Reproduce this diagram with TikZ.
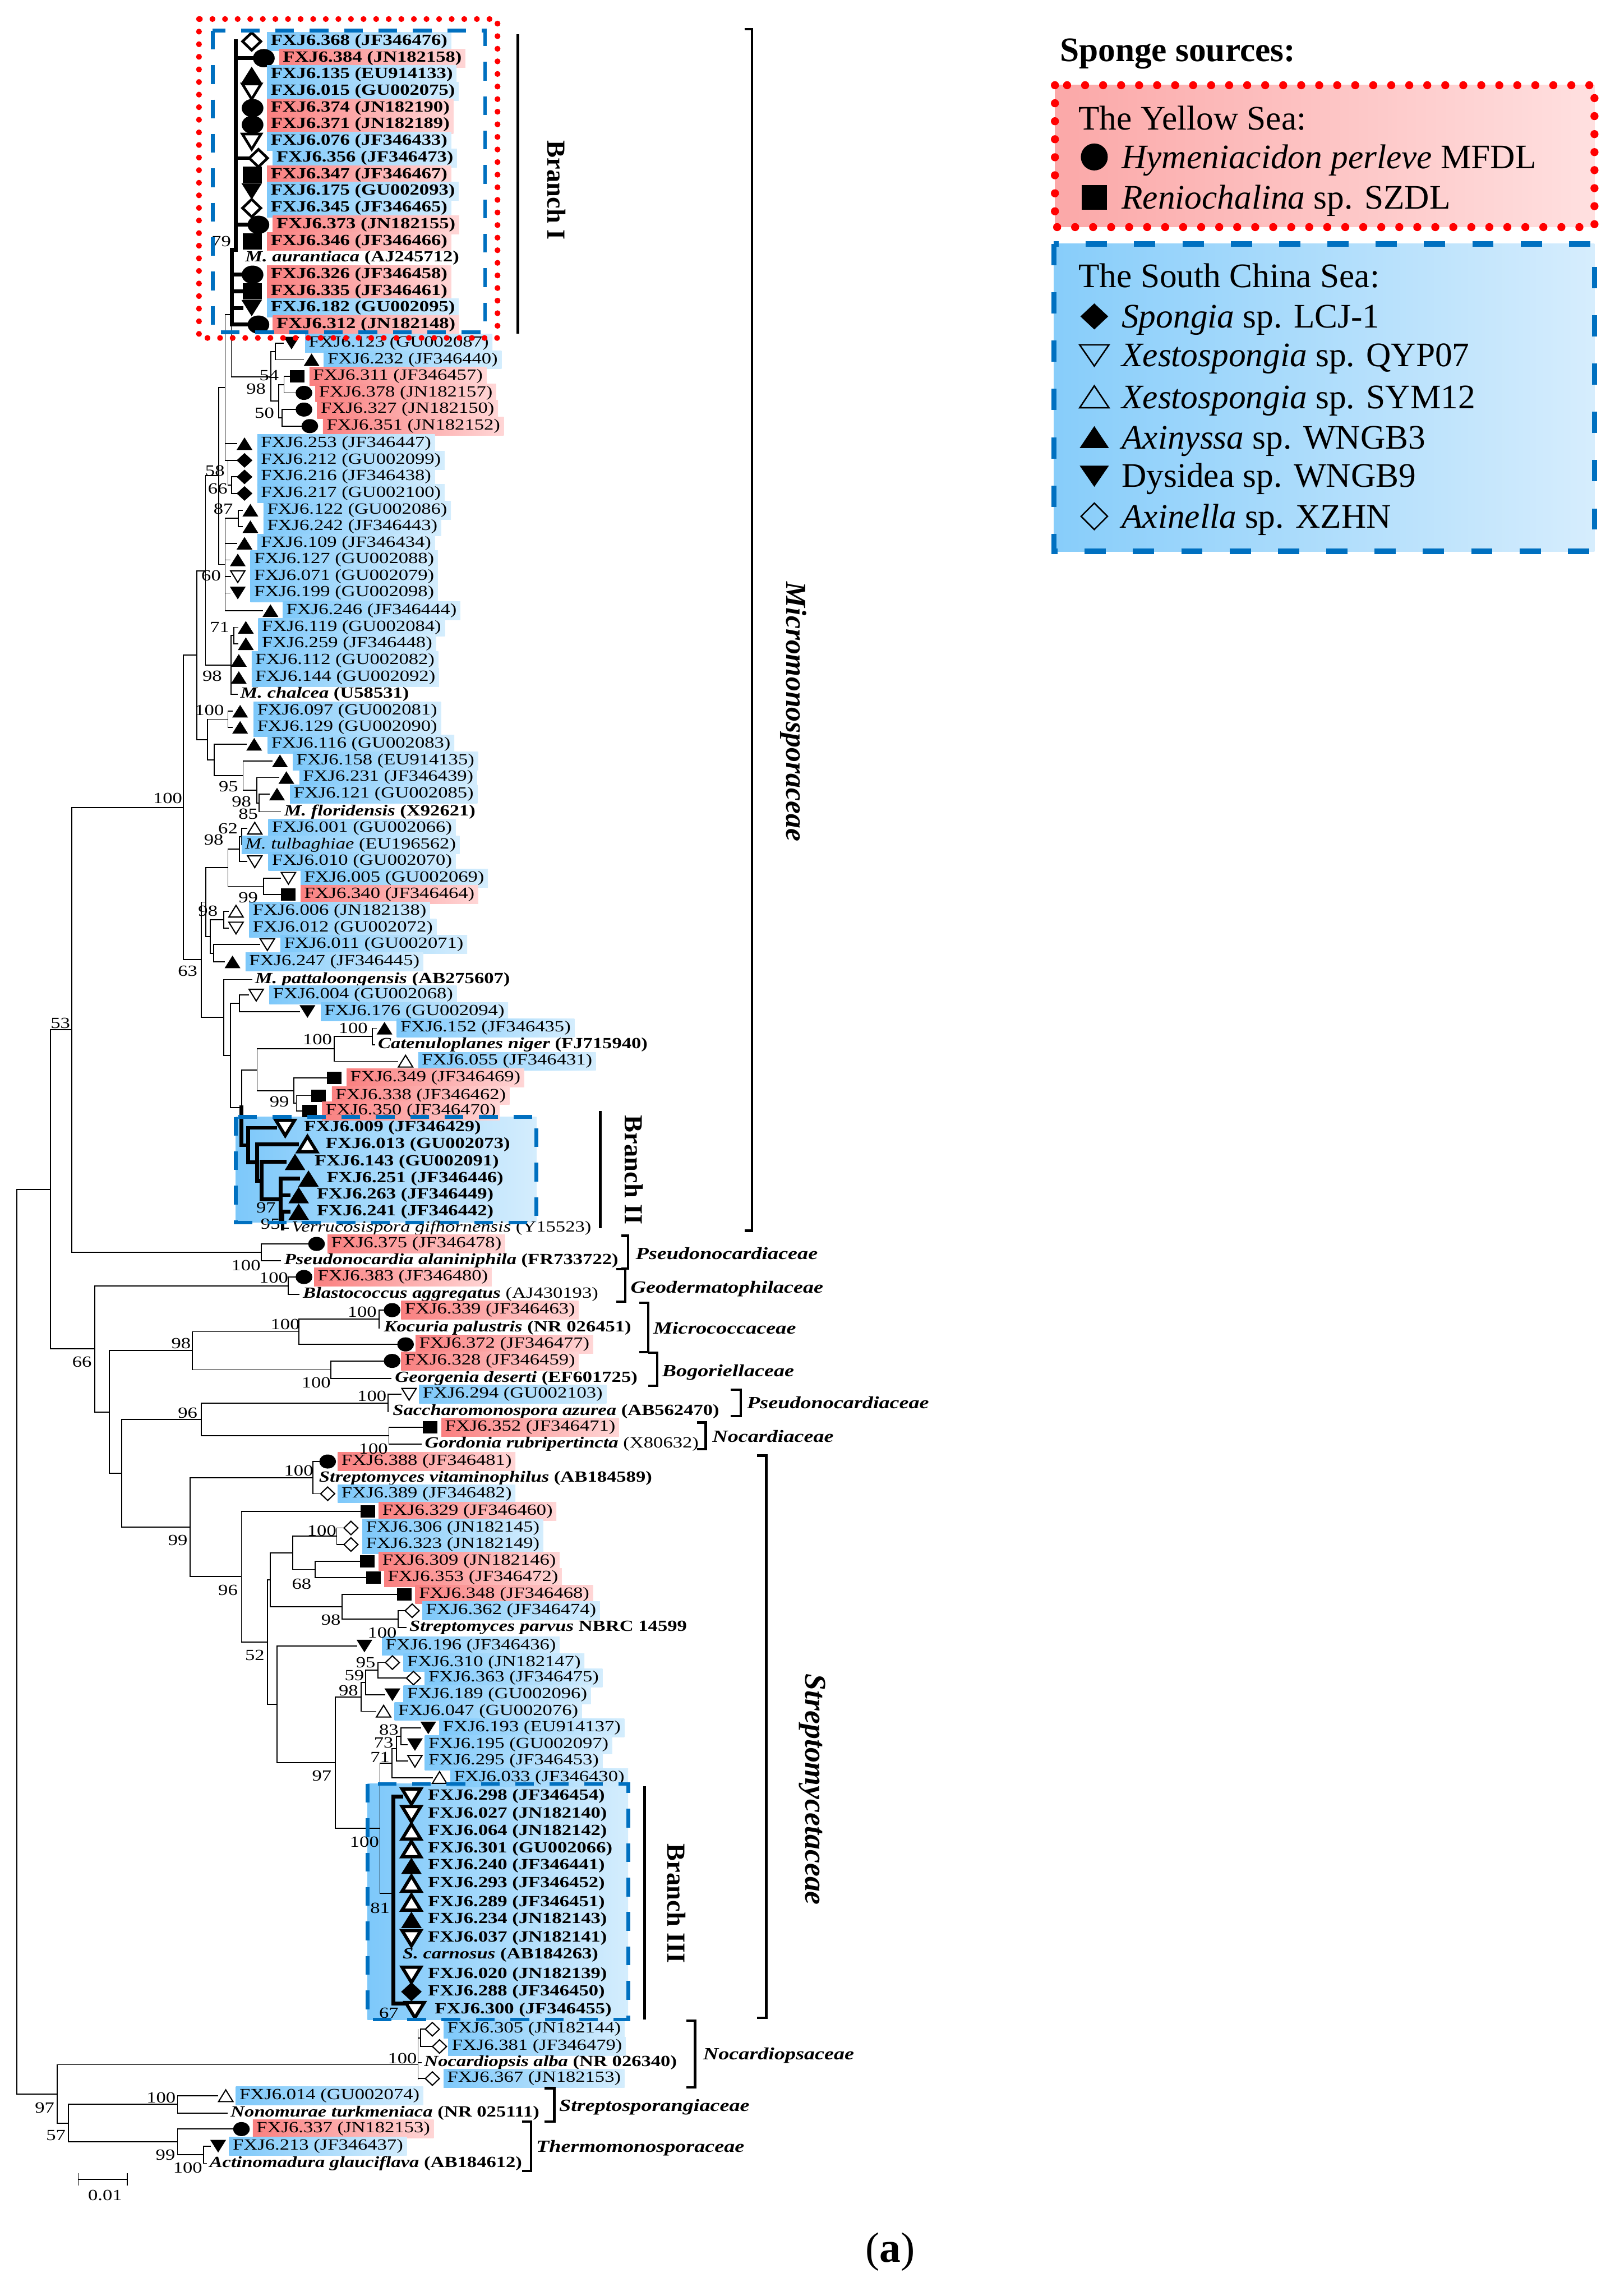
\documentclass[tikz,border=0pt]{standalone}
\usepackage{fontspec}
\setmainfont{Liberation Serif}
\newfontfamily\stretchf{Liberation Serif}[FakeStretch=1.25]
\newcommand\leaffont{\stretchf\fontsize{10.6}{12}\selectfont}
\newcommand\famfont{\stretchf\fontsize{11.7}{13}\selectfont\bfseries\itshape}
\newcommand\legfont{\fontsize{23.5}{26}\selectfont}
\definecolor{bL}{RGB}{125,200,250}
\definecolor{bR}{RGB}{212,237,253}
\definecolor{rL}{RGB}{250,128,128}
\definecolor{rR}{RGB}{255,214,214}
\definecolor{lrL}{RGB}{251,168,168}
\definecolor{lrR}{RGB}{255,224,224}
\definecolor{lbL}{RGB}{135,205,250}
\definecolor{lbR}{RGB}{214,237,253}
\definecolor{dblue}{RGB}{0,112,192}
\definecolor{dred}{RGB}{255,0,0}
\newcounter{lc}
\newcounter{bc}
\newcommand\olw{0.8pt}
\newcommand\VL[3]{\draw[tl] (#1,#2) -- (#1,#3);}
\newcommand\HL[3]{\draw[tl] (#2,#1) -- (#3,#1);}
\newcommand\VT[3]{\draw[tk] (#1,#2) -- (#1,#3);}
\newcommand\HT[3]{\draw[tk] (#2,#1) -- (#3,#1);}
\newcommand\Sci[3]{\fill (#1,#2) ellipse [x radius={5.7pt*#3}, y radius={4.8pt*#3}];}
\newcommand\Ssq[3]{\fill (#1-5*#3,#2-4.2*#3) rectangle (#1+5*#3,#2+4.2*#3);}
\newcommand\Stu[3]{\fill (#1-5.4*#3,#2+4.3*#3) -- (#1+5.4*#3,#2+4.3*#3) -- (#1,#2-4.3*#3) -- cycle;}
\newcommand\Std[3]{\fill (#1-5.4*#3,#2-4.3*#3) -- (#1+5.4*#3,#2-4.3*#3) -- (#1,#2+4.3*#3) -- cycle;}
\newcommand\Sou[3]{\filldraw[fill=white,line width=\olw,line join=miter] (#1-4.9*#3,#2+3.9*#3) -- (#1+4.9*#3,#2+3.9*#3) -- (#1,#2-4.1*#3) -- cycle;}
\newcommand\Sod[3]{\filldraw[fill=white,line width=\olw,line join=miter] (#1-4.9*#3,#2-3.9*#3) -- (#1+4.9*#3,#2-3.9*#3) -- (#1,#2+4.1*#3) -- cycle;}
\newcommand\Sdi[3]{\fill (#1-5.4*#3,#2) -- (#1,#2-5*#3) -- (#1+5.4*#3,#2) -- (#1,#2+5*#3) -- cycle;}
\newcommand\Soi[3]{\filldraw[fill=white,line width=\olw] (#1-4.8*#3,#2) -- (#1,#2-4.6*#3) -- (#1+4.8*#3,#2) -- (#1,#2+4.6*#3) -- cycle;}
\newcommand\Sno[3]{}
\newcommand\Lf[7]{#2{#3}{#1}{#4}\stepcounter{lc}\node[#5] (leaf\arabic{lc}) at (#6-2.5,#1) {#7};}
\newcommand\btsp[3]{\stepcounter{bc}\node[bsn] (bs\arabic{bc}) at (#1,#2) {#3};}
\newcommand\fambr[4]{\draw[brk] (#1,#3) -- (#2,#3) -- (#2,#4) -- (#1,#4);}
\begin{document}
\begin{tikzpicture}[x=1pt,y=-1pt,
 tl/.style={line width=0.7pt, line cap=rect},
 tk/.style={line width=2.6pt, line cap=rect},
 lab/.style={anchor=west, inner xsep=2.5pt, inner ysep=0pt, minimum height=12.6pt, text height=7.4pt, text depth=2.4pt, font=\leaffont},
 lb/.style={lab, left color=bL, right color=bR},
 lr/.style={lab, left color=rL, right color=rR},
 lp/.style={lab},
 lbb/.style={lb, font=\leaffont\bfseries},
 lrb/.style={lr, font=\leaffont\bfseries},
 lpb/.style={lp, font=\leaffont\bfseries},
 bsn/.style={font=\leaffont, inner sep=0pt},
 famlab/.style={font=\famfont, anchor=base west, inner sep=0pt},
 brk/.style={line width=1.7pt},
 bar/.style={line width=1.8pt},
 rot/.style={rotate=-90, inner sep=0pt},
 lg/.style={font=\legfont, anchor=base west, inner sep=0pt},
 bdash/.style={draw=dblue, line width=2.6pt, dash pattern=on 12.8pt off 10.7pt},
 rdot/.style={draw=dred, line width=4pt, dash pattern=on 0pt off 8.6pt, line cap=round},
]
\fill[white] (0,0) rectangle (1103,1568);
\useasboundingbox (0,0) rectangle (1103,1568);

% ---------- branch box fills ----------
\path[left color=bL, right color=bR] (161,762.8) rectangle (366.4,834.9);
\path[left color=bL, right color=bR] (251,1218.3) rectangle (429,1379.2);

% ---------- tree ----------
\VL{11.6}{812.3}{1430}\HL{812.3}{11.6}{34.5}\HL{1430}{11.6}{39.1}
\VL{34.5}{703.3}{921.2}\HL{703.3}{34.5}{48.9}\HL{921.2}{34.5}{64.7}
\VL{48.9}{551.4}{855.2}\HL{551.4}{48.9}{125.2}\HL{855.2}{48.9}{178.6}
\VL{178.6}{849.5}{861}\HL{849.5}{178.6}{210.5}\HL{861}{178.6}{191.6}
\VL{125.2}{447.4}{655.4}\HL{447.4}{125.2}{134.4}\HL{655.4}{125.2}{137.4}
\VL{134.4}{389.8}{505.1}\HL{389.8}{134.4}{140.4}\HL{505.1}{134.4}{141.7}
\VL{140.4}{324.9}{454.2}\HL{324.9}{140.4}{149.3}\HL{454.2}{140.4}{157.7}
\VL{149.3}{264.7}{385.5}\HL{264.7}{149.3}{153.8}\HL{385.5}{149.3}{153.8}
\VL{153.8}{215}{314.4}\HL{215}{153.8}{158}\HL{303}{153.8}{161.5}\HL{314.4}{153.8}{161.5}
\VL{155.7}{314.4}{331.4}\HL{331.4}{155.7}{158.3}
\VL{158.3}{325.7}{337}\HL{325.7}{158.3}{161.5}\HL{337}{158.3}{161.5}
\VL{158}{170.7}{257.3}\HL{257.3}{158}{185.1}
\VL{185.1}{240}{274}\HL{240}{185.1}{188}\VL{188}{234.3}{245.7}\HL{234.3}{188}{193.6}\HL{245.7}{188}{207.3}
\HL{274}{185.1}{190.2}\VL{190.2}{262.65}{285.35}\HL{262.65}{190.2}{194}\VL{194}{257}{268.3}\HL{257}{194}{198}\HL{268.3}{194}{201.9}
\HL{285.35}{190.2}{192.5}\VL{192.5}{279.7}{291}\HL{279.7}{192.5}{201.9}\HL{291}{192.5}{205.9}
\VL{153.8}{354}{417}\HL{354}{153.8}{162.8}\VL{162.8}{348.4}{359.7}\HL{348.4}{162.8}{165.6}\HL{359.7}{162.8}{165.6}
\HL{371}{153.8}{161.6}\HL{382.4}{153.8}{157}\HL{393.7}{153.8}{157.4}\HL{405}{153.8}{157}\HL{417}{153.8}{179.3}
\VL{157.7}{434}{474.3}\HL{434}{157.7}{159.6}\VL{159.6}{428.4}{439.6}\HL{428.4}{159.6}{162.5}\HL{439.6}{159.6}{162.5}\HL{474.3}{157.7}{162}
\VL{141.7}{491.2}{519}\HL{491.2}{141.7}{155.7}\VL{155.7}{485.7}{496.7}\HL{485.7}{155.7}{158.6}\HL{496.7}{155.7}{158.6}
\HL{519}{141.7}{146.2}\VL{146.2}{508.3}{529.6}\HL{508.3}{146.2}{168.2}\HL{529.6}{146.2}{166}
\VL{166}{519.6}{539.7}\HL{519.6}{166}{185.8}\HL{539.7}{166}{175.5}
\VL{175.5}{531}{548.35}\HL{531}{175.5}{190.2}\HL{548.35}{175.5}{177}
\VL{177}{542.3}{554.4}\HL{542.3}{177}{183.8}\HL{554.4}{177}{191.5}
\VL{137.4}{616.05}{694.8}\HL{616.05}{137.4}{140.5}\HL{694.8}{137.4}{152.7}
\VL{140.5}{592.6}{639.5}\HL{592.6}{140.5}{155.7}\HL{639.5}{140.5}{143.5}
\VL{155.7}{579.9}{605.35}\HL{579.9}{155.7}{163.4}\HL{605.35}{155.7}{180}
\VL{163.4}{571.35}{588.4}\HL{571.35}{163.4}{165.2}\HL{588.4}{163.4}{168.6}
\VL{165.2}{565.7}{577}\HL{565.7}{165.2}{168.6}
\VL{180}{599.7}{611}\HL{599.7}{180}{191.6}\HL{611}{180}{192}
\VL{143.5}{628.05}{650.95}\HL{628.05}{143.5}{152.7}\HL{650.95}{143.5}{146}
\VL{152.7}{622.4}{633.7}\HL{622.4}{152.7}{155.8}\HL{633.7}{152.7}{155.8}
\VL{146}{645}{656.9}\HL{645}{146}{177.2}\HL{656.9}{146}{153.4}
\VL{152.7}{668.9}{720.7}\HL{668.9}{152.7}{172}\HL{720.7}{152.7}{157.3}
\VL{157.3}{685.15}{756.3}\HL{685.15}{157.3}{163.4}\HL{756.3}{157.3}{165}
\VL{163.4}{679.5}{690.8}\HL{679.5}{163.4}{169.6}\HL{690.8}{163.4}{204.6}
\VL{165}{730.6}{756.3}\HL{730.6}{165}{175.6}
\VT{165}{756.3}{782.05}\HT{782.05}{165}{169.5}
\VL{175.6}{716.3}{744.85}\HL{716.3}{175.6}{228.4}\HL{744.85}{175.6}{200.6}
\VL{228.4}{707.85}{724.8}\HL{707.85}{228.4}{254.4}\HL{724.8}{228.4}{271.6}
\VL{254.4}{702.2}{713.5}\HL{702.2}{254.4}{257.2}\HL{713.5}{254.4}{256}
\VL{200.6}{736.2}{753.5}\HL{736.2}{200.6}{223.4}\HL{753.5}{200.6}{202.4}
\VL{202.4}{748.2}{758.8}\HL{748.2}{202.4}{212.7}\HL{758.8}{202.4}{206.3}
\VT{169.5}{770.2}{793.9}\HT{770.2}{169.5}{187.8}\HT{793.9}{169.5}{175.6}
\VT{175.6}{781.5}{806.3}\HT{781.5}{175.6}{203}\HT{806.3}{175.6}{178.6}
\VT{178.6}{793.5}{819.05}\HT{793.5}{178.6}{194.5}\HT{819.05}{178.6}{191.8}
\VT{191.8}{804.9}{833.2}\HT{804.9}{191.8}{203.7}\HT{816.2}{191.8}{197}\HT{833.2}{191.8}{193}
\VT{193}{827.5}{838.9}\HT{827.5}{193}{197}\HL{838.9}{193}{197}
\VL{64.7}{878.1}{964.25}\HL{878.1}{64.7}{197}\HL{964.25}{64.7}{74.8}
\VL{197}{872.1}{884.1}\HL{872.1}{197}{201.9}\HL{884.1}{197}{204.2}
\VL{74.8}{922.4}{1006.1}\HL{922.4}{74.8}{131.3}\HL{1006.1}{74.8}{83}
\VL{131.3}{909.4}{935.45}\HL{909.4}{131.3}{204}\HL{935.45}{131.3}{226}
\VL{204}{900.75}{918.1}\HL{900.75}{204}{259}\HL{918.1}{204}{271.3}
\VL{259}{894.7}{906.8}\HL{894.7}{259}{262.1}
\VL{226}{929.4}{941.5}\HL{929.4}{226}{262.1}\HL{941.5}{226}{267.1}
\VL{83}{969.3}{1042.9}\HL{969.3}{83}{137.4}\HL{1042.9}{83}{129.8}
\VL{137.4}{958.1}{980.45}\HL{958.1}{137.4}{265}\HL{980.45}{137.4}{265.6}
\VL{265}{952.1}{964.1}\HL{952.1}{265}{274}
\VL{265.6}{974.8}{986.1}\HL{974.8}{265.6}{288.7}\HL{986.1}{265.6}{287.5}
\VL{129.8}{1009.1}{1076.75}\HL{1009.1}{129.8}{213.7}\HL{1076.75}{129.8}{164.9}
\VL{213.7}{998.1}{1020.1}\HL{998.1}{213.7}{218.1}\HL{1020.1}{213.7}{218.8}
\VL{164.9}{1032.1}{1121.4}\HL{1032.1}{164.9}{246.3}\HL{1121.4}{164.9}{182.6}
\VL{182.6}{1078.85}{1163.9}\HL{1078.85}{182.6}{184.7}\HL{1163.9}{182.6}{189.3}
\VL{184.7}{1060.5}{1097.2}\HL{1060.5}{184.7}{200}\HL{1097.2}{184.7}{233.6}
\VL{200}{1049.15}{1071.8}\HL{1049.15}{200}{230}\HL{1071.8}{200}{215.3}
\VL{230}{1043.5}{1054.8}\HL{1043.5}{230}{234.7}\HL{1054.8}{230}{234.7}
\VL{215.3}{1066.1}{1077.5}\HL{1066.1}{215.3}{246}\HL{1077.5}{215.3}{250}
\VL{233.6}{1088.7}{1105.7}\HL{1088.7}{233.6}{271.3}\HL{1105.7}{233.6}{271.8}
\VL{271.8}{1100}{1111.4}\HL{1100}{271.8}{276.5}\HL{1111.4}{271.8}{277.2}
\VL{189.3}{1124.1}{1203.7}\HL{1124.1}{189.3}{243.5}\HL{1203.7}{189.3}{229}
\VL{229}{1158.9}{1248.55}\HL{1158.9}{229}{246.7}\HL{1248.55}{229}{259.5}
\VL{246.7}{1149.05}{1168.7}\HL{1149.05}{246.7}{249.8}\HL{1168.7}{246.7}{256.6}
\VL{249.8}{1140.7}{1157.4}\HL{1140.7}{249.8}{258}\HL{1157.4}{249.8}{262.6}
\VL{258}{1135.4}{1146}\HL{1135.4}{258}{263}\HL{1146}{258}{277.4}
\VL{259.5}{1204.1}{1293}\HL{1204.1}{259.5}{267.8}\HL{1293}{259.5}{268.7}
\VL{267.8}{1194.2}{1214}\HL{1194.2}{267.8}{270.8}\HL{1214}{267.8}{295.2}
\VL{270.8}{1185.7}{1202.7}\HL{1185.7}{270.8}{273.9}\HL{1202.7}{270.8}{278.4}
\VL{273.9}{1180}{1191.4}\HL{1180}{273.9}{287.1}\HL{1191.4}{273.9}{278}
\VT{268.7}{1226.8}{1368.2}\HT{1226.8}{268.7}{274}\HT{1368.2}{268.7}{276}
\VL{39.1}{1410}{1450}\HL{1410}{39.1}{285.5}\HL{1450}{39.1}{46.7}
\VL{285.5}{1386}{1420}\HL{1391.7}{285.5}{287.2}\VL{287.2}{1385.8}{1397.6}\HL{1385.8}{287.2}{290}\HL{1397.6}{287.2}{294.9}\HL{1408.5}{285.5}{287.5}\HL{1419.5}{285.5}{290}
\VL{46.7}{1437.15}{1462.8}\HL{1437.15}{46.7}{121.2}\HL{1462.8}{46.7}{121.2}
\VL{121.2}{1431.3}{1443}\HL{1431.3}{121.2}{148.8}\HL{1443}{121.2}{155.3}
\VL{121.2}{1454}{1471.55}\HL{1454}{121.2}{159.2}\HL{1471.55}{121.2}{139}
\VL{139}{1465.7}{1477.4}\HL{1465.7}{139}{143.6}\HL{1477.4}{139}{141}
% Branch I thick lines
\VT{161}{28.3}{170.7}\HT{170.7}{158.5}{161}\VT{158.5}{170.7}{221.7}
\HT{39.7}{161}{172.8}\HT{108}{161}{170}\HT{153.5}{161}{169.5}\HT{221.7}{158.5}{169.5}
\HT{187.6}{158.5}{165}\HT{199}{158.5}{165}\HT{210.4}{158.5}{165}

% ---------- leaves ----------
\renewcommand\olw{1.8pt}
\Lf{28.3}{\Soi}{171.9}{1.3}{lbb}{184.7}{FXJ6.368 (JF346476)}
\Lf{39.7}{\Sci}{180.2}{1.3}{lrb}{193}{FXJ6.384 (JN182158)}
\Lf{51.1}{\Stu}{171.9}{1.3}{lbb}{184.7}{FXJ6.135 (EU914133)}
\Lf{62.4}{\Sod}{171.9}{1.3}{lbb}{184.7}{FXJ6.015 (GU002075)}
\Lf{73.8}{\Sci}{172.5}{1.3}{lrb}{184.7}{FXJ6.374 (JN182190)}
\Lf{85.2}{\Sci}{172.5}{1.3}{lrb}{184.7}{FXJ6.371 (JN182189)}
\Lf{96.6}{\Sod}{171.9}{1.3}{lbb}{184.7}{FXJ6.076 (JF346433)}
\Lf{108.0}{\Soi}{176.5}{1.3}{lbb}{188.7}{FXJ6.356 (JF346473)}
\Lf{119.3}{\Ssq}{172.5}{1.3}{lrb}{184.7}{FXJ6.347 (JF346467)}
\Lf{130.7}{\Std}{171.9}{1.3}{lbb}{184.7}{FXJ6.175 (GU002093)}
\Lf{142.1}{\Soi}{171.9}{1.3}{lbb}{184.7}{FXJ6.345 (JF346465)}
\Lf{153.5}{\Sci}{176.5}{1.3}{lrb}{188.7}{FXJ6.373 (JN182155)}
\Lf{164.9}{\Ssq}{172.5}{1.3}{lrb}{184.7}{FXJ6.346 (JF346466)}
\Lf{176.2}{\Sno}{0}{1}{lpb}{167.3}{\textit{M. aurantiaca} (AJ245712)}
\Lf{187.6}{\Sci}{172.5}{1.3}{lrb}{184.7}{FXJ6.326 (JF346458)}
\Lf{199.0}{\Ssq}{172.5}{1.3}{lrb}{184.7}{FXJ6.335 (JF346461)}
\Lf{210.4}{\Std}{171.9}{1.3}{lbb}{184.7}{FXJ6.182 (GU002095)}
\Lf{221.7}{\Sci}{176.5}{1.3}{lrb}{188.7}{FXJ6.312 (JN182148)}
\renewcommand\olw{0.8pt}
\Lf{234.3}{\Std}{199.1}{1}{lb}{210.7}{FXJ6.123 (GU002087)}
\Lf{245.7}{\Stu}{212.8}{1}{lb}{223.5}{FXJ6.232 (JF346440)}
\Lf{257.0}{\Ssq}{203}{1}{lr}{213.7}{FXJ6.311 (JF346457)}
\Lf{268.3}{\Sci}{207.6}{1}{lr}{217.7}{FXJ6.378 (JN182157)}
\Lf{279.7}{\Sci}{207.6}{1}{lr}{218.9}{FXJ6.327 (JN182150)}
\Lf{291.0}{\Sci}{211.6}{1}{lr}{222.9}{FXJ6.351 (JN182152)}
\Lf{303.0}{\Stu}{167}{1}{lb}{178}{FXJ6.253 (JF346447)}
\Lf{314.4}{\Sdi}{167}{1}{lb}{178}{FXJ6.212 (GU002099)}
\Lf{325.7}{\Sdi}{167}{1}{lb}{178}{FXJ6.216 (JF346438)}
\Lf{337.0}{\Sdi}{167}{1}{lb}{178}{FXJ6.217 (GU002100)}
\Lf{348.4}{\Stu}{171}{1}{lb}{182.3}{FXJ6.122 (GU002086)}
\Lf{359.7}{\Stu}{171}{1}{lb}{182.3}{FXJ6.242 (JF346443)}
\Lf{371.0}{\Stu}{167}{1}{lb}{178}{FXJ6.109 (JF346434)}
\Lf{382.4}{\Stu}{162.4}{1}{lb}{173.4}{FXJ6.127 (GU002088)}
\Lf{393.7}{\Sod}{162.4}{1}{lb}{173.4}{FXJ6.071 (GU002079)}
\Lf{405.0}{\Std}{162.4}{1}{lb}{173.4}{FXJ6.199 (GU002098)}
\Lf{417.0}{\Stu}{184.7}{1}{lb}{195.4}{FXJ6.246 (JF346444)}
\Lf{428.4}{\Stu}{167.9}{1}{lb}{178.7}{FXJ6.119 (GU002084)}
\Lf{439.6}{\Stu}{167.9}{1}{lb}{178.7}{FXJ6.259 (JF346448)}
\Lf{451.0}{\Stu}{163.1}{1}{lb}{174.2}{FXJ6.112 (GU002082)}
\Lf{462.7}{\Stu}{163.1}{1}{lb}{174.2}{FXJ6.144 (GU002092)}
\Lf{474.3}{\Sno}{0}{1}{lpb}{164}{\textit{M. chalcea} (U58531)}
\Lf{485.7}{\Stu}{164}{1}{lb}{175.5}{FXJ6.097 (GU002081)}
\Lf{496.7}{\Stu}{164}{1}{lb}{175.5}{FXJ6.129 (GU002090)}
\Lf{508.3}{\Stu}{173.6}{1}{lb}{185.1}{FXJ6.116 (GU002083)}
\Lf{519.6}{\Stu}{191.2}{1}{lb}{202.3}{FXJ6.158 (EU914135)}
\Lf{531.0}{\Stu}{195.6}{1}{lb}{206.8}{FXJ6.231 (JF346439)}
\Lf{542.3}{\Stu}{189.2}{1}{lb}{200.4}{FXJ6.121 (GU002085)}
\Lf{554.4}{\Sno}{0}{1}{lpb}{193.9}{\textit{M. floridensis} (X92621)}
\Lf{565.7}{\Sou}{174}{1}{lb}{185.6}{FXJ6.001 (GU002066)}
\Lf{577.0}{\Sno}{0}{1}{lb}{167.3}{\textit{M. tulbaghiae} (EU196562)}
\Lf{588.4}{\Sod}{174}{1}{lb}{185.6}{FXJ6.010 (GU002070)}
\Lf{599.7}{\Sod}{197}{1}{lb}{207.6}{FXJ6.005 (GU002069)}
\Lf{611.0}{\Ssq}{197}{1}{lr}{207.6}{FXJ6.340 (JF346464)}
\Lf{622.4}{\Sou}{161.2}{1}{lb}{172.5}{FXJ6.006 (JN182138)}
\Lf{633.7}{\Sod}{161.2}{1}{lb}{172.5}{FXJ6.012 (GU002072)}
\Lf{645.0}{\Sod}{182.6}{1}{lb}{193.9}{FXJ6.011 (GU002071)}
\Lf{656.9}{\Stu}{158.8}{1}{lb}{170}{FXJ6.247 (JF346445)}
\Lf{668.9}{\Sno}{0}{1}{lpb}{174}{\textit{M. pattaloongensis} (AB275607)}
\Lf{679.5}{\Sod}{175}{1}{lb}{186.3}{FXJ6.004 (GU002068)}
\Lf{690.8}{\Std}{210}{1}{lb}{221.4}{FXJ6.176 (GU002094)}
\Lf{702.2}{\Stu}{262.6}{1}{lb}{273.3}{FXJ6.152 (JF346435)}
\Lf{713.5}{\Sno}{0}{1}{lpb}{258}{\textit{Catenuloplanes niger} (FJ715940)}
\Lf{724.8}{\Sou}{277}{1}{lb}{288}{FXJ6.055 (JF346431)}
\Lf{736.2}{\Ssq}{228.4}{1}{lr}{239}{FXJ6.349 (JF346469)}
\Lf{748.2}{\Ssq}{217.7}{1}{lr}{229}{FXJ6.338 (JF346462)}
\Lf{758.8}{\Ssq}{211.3}{1}{lr}{222.3}{FXJ6.350 (JF346470)}
\renewcommand\olw{2.2pt}
\Lf{770.2}{\Sod}{194.8}{1.3}{lpb}{207.6}{FXJ6.009 (JF346429)}
\Lf{781.5}{\Sou}{210}{1.3}{lpb}{222.3}{FXJ6.013 (GU002073)}
\Lf{793.5}{\Stu}{201.5}{1.3}{lpb}{214.7}{FXJ6.143 (GU002091)}
\Lf{804.9}{\Stu}{210.7}{1.3}{lpb}{222.9}{FXJ6.251 (JF346446)}
\Lf{816.2}{\Stu}{204}{1.3}{lpb}{216.2}{FXJ6.263 (JF346449)}
\Lf{827.5}{\Stu}{204}{1.3}{lpb}{216.2}{FXJ6.241 (JF346442)}
\renewcommand\olw{0.8pt}
\Lf{838.9}{\Sno}{0}{1}{lp}{199}{\textit{Verrucosispora gifhornensis} (Y15523)}
\Lf{849.5}{\Sci}{216.2}{1}{lr}{226}{FXJ6.375 (JF346478)}
\Lf{861.0}{\Sno}{0}{1}{lpb}{193.9}{\textit{Pseudonocardia alaniniphila} (FR733722)}
\Lf{872.1}{\Sci}{207.6}{1}{lr}{216.8}{FXJ6.383 (JF346480)}
\Lf{884.1}{\Sno}{0}{1}{lp}{206.7}{\textbf{\textit{Blastococcus aggregatus}} (AJ430193)}
\Lf{894.7}{\Sci}{267.8}{1}{lr}{276.3}{FXJ6.339 (JF346463)}
\Lf{906.8}{\Sno}{0}{1}{lpb}{262}{\textit{Kocuria palustris} (NR 026451)}
\Lf{918.1}{\Sci}{277}{1}{lr}{286.1}{FXJ6.372 (JF346477)}
\Lf{929.4}{\Sci}{267.8}{1}{lr}{276.3}{FXJ6.328 (JF346459)}
\Lf{941.5}{\Sno}{0}{1}{lpb}{269.6}{\textit{Georgenia deserti} (EF601725)}
\Lf{952.1}{\Sod}{279.4}{1}{lb}{288.5}{FXJ6.294 (GU002103)}
\Lf{964.1}{\Sno}{0}{1}{lpb}{268}{\textit{Saccharomonospora azurea} (AB562470)}
\Lf{974.8}{\Ssq}{293.7}{1}{lr}{303.8}{FXJ6.352 (JF346471)}
\Lf{986.1}{\Sno}{0}{1}{lp}{290}{\textbf{\textit{Gordonia rubripertincta}} (X80632)}
\Lf{998.1}{\Sci}{223.8}{1}{lr}{233}{FXJ6.388 (JF346481)}
\Lf{1009.5}{\Sno}{0}{1}{lpb}{217.7}{\textit{Streptomyces vitaminophilus} (AB184589)}
\Lf{1020.1}{\Soi}{223.8}{1}{lb}{233}{FXJ6.389 (JF346482)}
\Lf{1032.1}{\Ssq}{251.3}{1}{lr}{261}{FXJ6.329 (JF346460)}
\Lf{1043.5}{\Soi}{239.7}{1}{lb}{249.8}{FXJ6.306 (JN182145)}
\Lf{1054.8}{\Soi}{239.7}{1}{lb}{249.8}{FXJ6.323 (JN182149)}
\Lf{1066.1}{\Ssq}{251}{1}{lr}{261}{FXJ6.309 (JN182146)}
\Lf{1077.5}{\Ssq}{255}{1}{lr}{264.7}{FXJ6.353 (JF346472)}
\Lf{1088.7}{\Ssq}{276.3}{1}{lr}{286}{FXJ6.348 (JF346468)}
\Lf{1100.0}{\Soi}{281.5}{1}{lb}{290.7}{FXJ6.362 (JF346474)}
\Lf{1111.4}{\Sno}{0}{1}{lpb}{279.4}{\textit{Streptomyces parvus} NBRC 14599}
\Lf{1124.1}{\Std}{248.9}{1}{lb}{263.2}{FXJ6.196 (JF346436)}
\Lf{1135.4}{\Soi}{268}{1}{lb}{277.9}{FXJ6.310 (JN182147)}
\Lf{1146.0}{\Soi}{282.4}{1}{lb}{292.5}{FXJ6.363 (JF346475)}
\Lf{1157.4}{\Std}{268}{1}{lb}{277.9}{FXJ6.189 (GU002096)}
\Lf{1168.7}{\Sou}{262}{1}{lb}{271.8}{FXJ6.047 (GU002076)}
\Lf{1180.0}{\Std}{292.5}{1}{lb}{302.3}{FXJ6.193 (EU914137)}
\Lf{1191.4}{\Std}{283.4}{1}{lb}{292.5}{FXJ6.195 (GU002097)}
\Lf{1202.7}{\Sod}{283.4}{1}{lb}{292.5}{FXJ6.295 (JF346453)}
\Lf{1214.0}{\Sou}{300.2}{1}{lb}{310}{FXJ6.033 (JF346430)}
\renewcommand\olw{2.2pt}
\Lf{1226.8}{\Sod}{281}{1.3}{lpb}{292.2}{FXJ6.298 (JF346454)}
\Lf{1238.8}{\Sod}{281}{1.3}{lpb}{292.2}{FXJ6.027 (JN182140)}
\Lf{1250.9}{\Sou}{281}{1.3}{lpb}{292.2}{FXJ6.064 (JN182142)}
\Lf{1262.9}{\Sou}{281}{1.3}{lpb}{292.2}{FXJ6.301 (GU002066)}
\Lf{1274.2}{\Stu}{281}{1.3}{lpb}{292.2}{FXJ6.240 (JF346441)}
\Lf{1286.5}{\Sou}{281}{1.3}{lpb}{292.2}{FXJ6.293 (JF346452)}
\Lf{1299.4}{\Sou}{281}{1.3}{lpb}{292.2}{FXJ6.289 (JF346451)}
\Lf{1311.1}{\Stu}{281}{1.3}{lpb}{292.2}{FXJ6.234 (JN182143)}
\Lf{1323.5}{\Sod}{281}{1.3}{lpb}{292.2}{FXJ6.037 (JN182141)}
\Lf{1335.3}{\Sno}{0}{1}{lpb}{274.8}{\textit{S. carnosus} (AB184263)}
\Lf{1348.5}{\Sod}{281}{1.3}{lpb}{292.2}{FXJ6.020 (JN182139)}
\Lf{1360.2}{\Sdi}{281}{1.3}{lpb}{292.2}{FXJ6.288 (JF346450)}
\Lf{1372.6}{\Sod}{283.4}{1.3}{lpb}{296.8}{FXJ6.300 (JF346455)}
\renewcommand\olw{0.8pt}
\Lf{1385.8}{\Soi}{295.3}{1}{lb}{305.3}{FXJ6.305 (JN182144)}
\Lf{1397.6}{\Soi}{300.2}{1}{lb}{308.4}{FXJ6.381 (JF346479)}
\Lf{1408.5}{\Sno}{0}{1}{lpb}{289.5}{\textit{Nocardiopsis alba} (NR 026340)}
\Lf{1419.5}{\Soi}{295.3}{1}{lb}{305.3}{FXJ6.367 (JN182153)}
\Lf{1431.3}{\Sou}{154.2}{1}{lb}{163.4}{FXJ6.014 (GU002074)}
\Lf{1443.0}{\Sno}{0}{1}{lpb}{157.3}{\textit{Nonomurae turkmeniaca} (NR 025111)}
\Lf{1454.0}{\Sci}{164.9}{1}{lr}{175}{FXJ6.337 (JN182153)}
\Lf{1465.7}{\Std}{149}{1}{lb}{158.8}{FXJ6.213 (JF346437)}
\Lf{1477.4}{\Sno}{0}{1}{lpb}{142.9}{\textit{Actinomadura glauciflava} (AB184612)}

% ---------- bootstrap values ----------
\btsp{151.1}{165}{79}\btsp{183.8}{256.6}{54}\btsp{174.9}{265.6}{98}\btsp{180.6}{282.2}{50}
\btsp{146.8}{321.4}{58}\btsp{148.7}{333.6}{66}\btsp{152.5}{347.6}{87}\btsp{144.2}{393.2}{60}
\btsp{150}{428.4}{71}\btsp{144.9}{461.5}{98}\btsp{143}{485.2}{100}\btsp{156}{537}{95}
\btsp{164.9}{547.3}{98}\btsp{169.5}{555.8}{85}\btsp{155.7}{565.7}{62}\btsp{146}{573.5}{98}
\btsp{169.5}{613}{99}\btsp{142}{622.3}{98}\btsp{114.5}{545.1}{100}\btsp{128.2}{663.2}{63}
\btsp{41.2}{698.6}{53}\btsp{241.2}{702.2}{100}\btsp{216.8}{710}{100}\btsp{190.8}{752.5}{99}
\btsp{181.7}{824.7}{97}\btsp{184.7}{836}{95}\btsp{168}{864.3}{100}\btsp{186.9}{872.8}{100}
\btsp{247.3}{896}{100}\btsp{194.8}{904.6}{100}\btsp{123.7}{917.4}{98}\btsp{56}{930}{66}
\btsp{215.9}{944.3}{100}\btsp{254}{953.5}{100}\btsp{128.2}{964.8}{96}\btsp{255}{989.6}{100}
\btsp{204}{1004.5}{100}\btsp{121.5}{1052}{99}\btsp{219.8}{1045.3}{100}\btsp{206}{1081.6}{68}
\btsp{155.7}{1085.9}{96}\btsp{226}{1106.4}{98}\btsp{261}{1114.9}{100}\btsp{174}{1130.5}{52}
\btsp{249.8}{1135.4}{95}\btsp{242}{1144}{59}\btsp{238}{1154.6}{98}\btsp{265.6}{1181.5}{83}
\btsp{262}{1190}{73}\btsp{259.5}{1200}{71}\btsp{219.8}{1212.6}{97}\btsp{248.9}{1258}{100}
\btsp{259.5}{1303}{81}\btsp{265.6}{1374.8}{67}\btsp{274.8}{1405.6}{100}\btsp{110}{1432.7}{100}
\btsp{30.5}{1439.3}{97}\btsp{38.2}{1458.4}{57}\btsp{113}{1471.6}{99}\btsp{128.2}{1480.4}{100}

% ---------- scale bar ----------
\draw[tl] (53.4,1488.4) -- (87,1488.4);
\draw[tl] (53.4,1484.6) -- (53.4,1492.2);
\draw[tl] (87,1484.6) -- (87,1492.2);
\node[bsn] (scale) at (71.8,1499.4) {0.01};

% ---------- branch boxes borders ----------
\draw[rdot] (135.9,13) rectangle (339.8,230.8);
\draw[bdash] (145.3,21) rectangle (331.3,227);
\draw[bdash] (161,762.8) rectangle (366.4,834.9);
\draw[bdash] (251,1218.3) rectangle (429,1379.2);

% ---------- branch bars and family brackets ----------
\draw[bar] (353.6,23.4) -- (353.6,228);
\node[rot, font=\fontsize{17.8}{20}\selectfont\bfseries] (brI) at (380,130) {Branch I};
\draw[bar] (410,758.8) -- (410,838.9);
\node[rot, font=\fontsize{17.8}{20}\selectfont\bfseries] (brII) at (433,799) {Branch II};
\draw[bar] (440.3,1219.7) -- (440.3,1379.2);
\node[rot, font=\fontsize{17.8}{20}\selectfont\bfseries] (brIII) at (462,1300) {Branch III};
\draw[brk] (508.5,19.9) -- (513.6,19.9) -- (513.6,840.5) -- (508.5,840.5);
\node[rot, font=\fontsize{19.8}{22}\selectfont\bfseries\itshape] (micro) at (542,486) {Micromonosporaceae};
\draw[brk] (517,994) -- (523.4,994) -- (523.4,1378) -- (517,1378);
\node[rot, font=\fontsize{20.6}{22}\selectfont\bfseries\itshape] (strep) at (554.6,1222) {Streptomycetaceae};
\fambr{424.4}{429}{844}{866.4}\node[famlab] (f1) at (434,859.9) {Pseudonocardiaceae};
\fambr{420.8}{427}{866.7}{889}\node[famlab] (f2) at (430.5,882.9) {Geodermatophilaceae};
\fambr{436.6}{442.7}{889.8}{923.3}\node[famlab] (f3) at (446,910.9) {Micrococcaceae};
\fambr{442.7}{448.9}{923.8}{946.4}\node[famlab] (f4) at (452,939.9) {Bogoriellaceae};
\fambr{499}{506}{949}{967}\node[famlab] (f5) at (510,961.9) {Pseudonocardiaceae};
\fambr{476}{482}{971.5}{989.6}\node[famlab] (f6) at (486.3,984.9) {Nocardiaceae};
\fambr{468.7}{474.8}{1380}{1425.4}\node[famlab] (f7) at (480,1406.4) {Nocardiopsaceae};
\fambr{371.9}{378.6}{1426}{1448.8}\node[famlab] (f8) at (381.7,1441.9) {Streptosporangiaceae};
\fambr{356.6}{362.7}{1448.8}{1482.6}\node[famlab] (f9) at (366,1469.9) {Thermomonosporaceae};

% ---------- legend ----------
\node[lg] (lt) at (723.7,42) {\textbf{Sponge sources:}};
\path[left color=lrL, right color=lrR] (720.5,58.2) rectangle (1089,155.1);
\draw[draw=dred, line width=5.5pt, dash pattern=on 0pt off 12.3pt, line cap=round] (720.5,58.2) rectangle (1089,155.1);
\node[lg] (ly) at (736.4,88.7) {The Yellow Sea:};
\fill (747.4,107.2) circle (9.2pt);
\node[lg] (l1) at (765.9,115) {\textit{Hymeniacidon perleve} MFDL};
\fill (738.9,126.3) rectangle (755.9,143.3);
\node[lg] (l2) at (765.9,142.6) {\textit{Reniochalina} sp. SZDL};
\path[left color=lbL, right color=lbR] (719.7,166.6) rectangle (1089,376.5);
\draw[draw=dblue, line width=3.5pt, dash pattern=on 14.5pt off 18.5pt] (719.7,166.6) rectangle (1089,376.5);
\node[lg] (ls) at (736.4,196.4) {The South China Sea:};
\fill (737.9,216.1) -- (747.4,207.2) -- (756.9,216.1) -- (747.4,225) -- cycle;
\node[lg] (l3) at (765.9,223.9) {\textit{Spongia} sp. LCJ-1};
\draw[line width=1pt] (737.4,235.5) -- (757.4,235.5) -- (747.4,250) -- cycle;
\node[lg] (l4) at (765.9,250.3) {\textit{Xestospongia} sp. QYP07};
\draw[line width=1pt] (737.4,278.5) -- (757.4,278.5) -- (747.4,263.5) -- cycle;
\node[lg] (l5) at (765.9,279) {\textit{Xestospongia} sp. SYM12};
\fill (737.4,306) -- (757.4,306) -- (747.4,291) -- cycle;
\node[lg] (l6) at (765.9,306.5) {\textit{Axinyssa} sp. WNGB3};
\fill (737.4,318) -- (757.4,318) -- (747.4,332.5) -- cycle;
\node[lg] (l7) at (765.9,332.8) {Dysidea sp. WNGB9};
\draw[line width=1pt] (738.4,352.6) -- (747.4,343.6) -- (756.4,352.6) -- (747.4,361.6) -- cycle;
\node[lg] (l8) at (765.9,360.4) {\textit{Axinella} sp. XZHN};

% ---------- panel label ----------
\node[font=\fontsize{29}{32}\selectfont, inner sep=0pt] (pa) at (608,1538) {(\textbf{a})};
\end{tikzpicture}
\end{document}
